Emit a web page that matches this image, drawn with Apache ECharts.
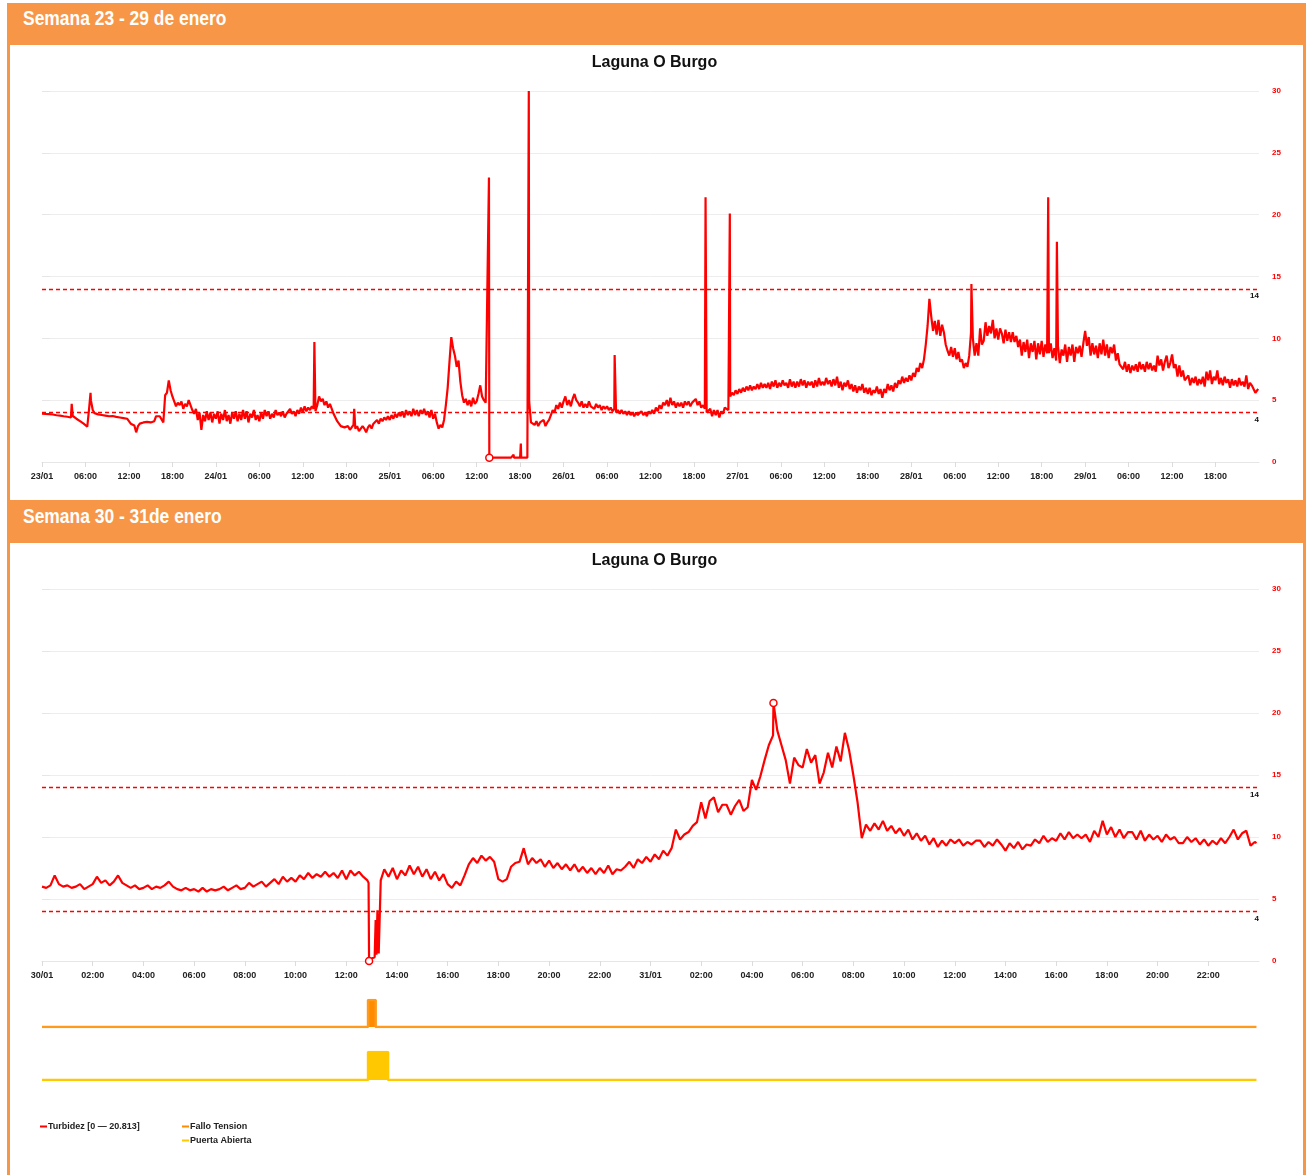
<!DOCTYPE html>
<html>
<head>
<meta charset="utf-8">
<script src="https://cdn.jsdelivr.net/npm/echarts@6/dist/echarts.min.js"></script>
<style>
  html, body { margin:0; padding:0; background:#ffffff; }
  body { width:1309px; height:1175px; position:relative; overflow:hidden; }
  .frame { position:absolute; left:7px; top:3px; width:1299px; height:1172px; background:#F79646; }
  .panel { position:absolute; left:10px; width:1293px; background:#ffffff; }
  .hdr { position:absolute; left:23px; color:#ffffff; font-family:"Liberation Sans",Arial,sans-serif; font-weight:bold; font-size:21px; line-height:24px; transform:scaleX(0.83); transform-origin:0 50%; white-space:nowrap; }
  #chart { position:absolute; left:0; top:0; width:1309px; height:1175px; }
</style>
</head>
<body>
<div class="frame"></div>
<div class="panel" style="top:45px;height:455px;"></div>
<div class="panel" style="top:543px;height:632px;"></div>
<div class="hdr" style="top:6px;">Semana 23 - 29 de enero</div>
<div class="hdr" style="top:504px;">Semana 30 - 31de enero</div>
<div id="chart"></div>
<script>
// ---------------- DATA ----------------
const chartTitle = 'Laguna O Burgo';
const seriesName = 'Turbidez [0 — 20.813]';
const thresholdHigh = 14;
const thresholdLow = 4;

// Week 23/01 - 29/01: samples every 0.25 h from 23/01 00:00 (4 per hour, 6 hours per row)
const weekStepHours = 0.25;
const weekValues = [
  /* h0  */ 3.9,3.92,3.88,3.85, 3.87,3.82,3.84,3.8, 3.78,3.72,3.75,3.68, 3.7,3.62,3.66,3.58, 3.6,3.72,3.6,3.5, 3.4,3.3,3.2,3.1,
  /* h6  */ 2.95,2.85,4.3,5.0, 4.2,3.95,3.9,3.85, 3.9,3.8,3.85,3.75, 3.8,3.7,3.78,3.72, 3.75,3.65,3.7,3.6, 3.65,3.55,3.6,3.5,
  /* h12 */ 3.3,3.1,3.2,2.95, 2.4,2.9,3.1,3.0, 3.2,3.05,3.25,3.1, 3.2,3.05,3.3,3.7, 3.65,3.7,3.6,3.2, 5.4,5.6,6.6,5.8,
  /* h18 */ 5.3,4.9,4.5,4.8, 4.6,4.9,4.3,4.7, 4.5,5.0,4.6,4.2, 3.9,4.3,3.4,4.0, 2.6,3.8,3.3,4.1, 3.4,4.0,3.2,3.9,
  /* h24 */ 3.5,4.1,3.1,3.9, 3.4,4.2,3.3,3.8, 3.1,4.0,3.5,4.1, 3.3,3.9,3.4,4.2, 3.5,4.1,3.2,3.9, 3.6,4.2,3.4,3.8,
  /* h30 */ 3.3,4.0,3.5,4.2, 3.7,4.1,3.5,3.9, 3.6,4.2,3.8,4.0, 3.7,4.1,3.6,3.9, 3.8,4.3,3.9,4.1, 3.7,4.2,3.9,4.4,
  /* h36 */ 4.0,4.5,4.1,4.4, 4.2,4.5,4.3,4.1, 4.6,5.3,4.9,5.1, 4.6,4.9,4.4,4.7, 4.3,3.9,3.6,3.3, 3.1,2.9,3.0,2.8,
  /* h42 */ 2.7,2.9,2.6,2.8, 3.0,2.7,2.9,2.5, 2.6,2.9,2.7,2.4, 2.8,3.0,2.7,3.1, 3.2,3.4,3.1,3.5, 3.3,3.6,3.4,3.7,
  /* h48 */ 3.4,3.8,3.5,3.9, 3.6,4.0,3.7,4.1, 3.6,4.2,3.8,4.1, 3.7,4.3,3.8,4.2, 3.7,4.2,3.9,4.3, 3.8,4.1,3.6,4.2,
  /* h54 */ 3.5,3.9,3.2,2.7, 3.0,2.8,3.4,4.6, 6.0,8.1,10.1,9.2, 8.6,7.7,8.2,6.5, 5.4,4.8,5.1,4.6, 5.0,4.5,5.2,4.7,
  /* h60 */ 4.9,5.5,6.2,5.3, 5.0,4.8,4.9,0.35, 0.35,0.35,0.35,0.35, 0.35,0.35,0.35,0.35, 0.35,0.35,0.35,0.35, 0.35,0.35,0.35,0.35,
  /* h66 */ 0.35,0.35,0.35,0.35, 0.35,4.9,3.2,3.3, 3.0,3.3,2.9,3.2, 3.1,3.4,2.9,3.2, 3.4,3.8,4.2,4.0, 4.6,4.3,4.8,4.4,
  /* h72 */ 4.9,5.3,4.6,5.0, 4.5,5.1,5.5,5.0, 4.8,4.5,4.9,4.4, 4.7,4.4,4.9,4.5, 4.6,4.3,4.7,4.4, 4.6,4.2,4.5,4.3,
  /* h78 */ 4.5,4.2,4.4,4.1, 4.3,4.0,4.2,3.9, 4.2,3.9,4.1,3.8, 4.1,3.8,4.0,3.7, 4.0,3.8,3.9,4.1, 3.8,4.0,3.7,4.1,
  /* h84 */ 3.9,4.2,3.9,4.4, 4.1,4.6,4.3,4.8, 4.6,5.0,4.5,5.2, 4.6,4.9,4.4,4.8, 4.5,4.8,4.4,4.9, 4.6,4.9,4.5,4.8,
  /* h90 */ 4.7,5.1,4.6,4.9, 4.4,4.6,4.3,4.0, 4.0,4.3,3.7,4.2, 3.8,4.2,3.6,4.1, 3.9,4.4,4.5,4.2, 5.3,5.6,5.4,5.8,
  /* h96 */ 5.5,5.9,5.6,6.0, 5.7,6.1,5.8,6.2, 5.8,6.1,5.9,6.3, 5.9,6.4,6.0,6.3, 6.0,6.4,5.9,6.5, 6.1,6.6,6.0,6.4,
  /* h102*/ 6.1,6.6,6.2,6.4, 6.0,6.7,6.1,6.5, 6.0,6.5,6.1,6.7, 6.2,6.6,6.0,6.5, 6.2,6.5,6.0,6.6, 6.1,6.8,6.2,6.5,
  /* h108*/ 6.2,6.8,6.3,6.6, 6.1,6.7,6.2,6.9, 6.0,6.5,5.8,6.4, 6.1,6.6,5.9,6.3, 5.7,6.2,5.6,6.1, 5.8,6.3,5.6,6.0,
  /* h114*/ 5.5,6.0,5.4,5.8, 5.6,6.1,5.5,5.9, 5.2,5.9,5.6,6.3, 5.8,6.2,5.7,6.4, 6.0,6.6,6.3,6.9, 6.4,6.8,6.5,7.0,
  /* h120*/ 6.6,7.2,6.9,7.6, 7.3,8.0,7.6,8.3, 9.5,11.0,13.2,11.8, 10.6,11.4,10.3,11.5, 10.2,11.1,10.5,9.5, 9.0,8.6,9.3,8.5,
  /* h126*/ 9.2,8.3,8.9,8.1, 8.3,7.6,8.0,7.7, 8.6,10.5,10.0,8.6, 9.6,8.6,10.8,9.5, 9.8,11.3,10.2,11.0, 10.4,11.5,10.0,10.8,
  /* h132*/ 9.9,10.8,10.4,9.6, 10.7,9.8,10.5,9.7, 10.5,9.7,10.2,9.3, 9.9,8.6,9.7,8.9, 9.9,8.4,9.6,8.9, 9.8,8.3,9.6,8.7,
  /* h138*/ 9.8,8.5,9.5,8.8, 8.8,9.6,8.4,9.2, 8.2,9.4,8.0,9.1, 8.6,9.5,8.1,9.3, 8.6,9.5,8.1,9.3, 8.8,9.4,8.5,9.6,
  /* h144*/ 10.6,9.4,10.1,8.6, 9.6,8.7,9.4,8.4, 9.6,8.7,9.9,8.6, 9.5,8.4,9.3,8.8, 9.5,8.2,8.8,7.9, 8.0,7.5,8.1,7.3,
  /* h150*/ 7.9,7.2,7.8,7.4, 7.9,7.3,8.1,7.5, 7.9,7.3,8.1,7.5, 8.0,7.4,7.8,7.3, 8.6,7.8,8.3,7.4, 8.1,8.6,7.6,8.0,
  /* h156*/ 8.7,7.6,7.9,6.9, 7.8,6.9,7.4,6.6, 6.5,7.0,6.2,6.8, 6.4,6.9,6.2,6.7, 6.3,6.9,6.1,7.3, 6.6,7.4,6.3,6.9,
  /* h162*/ 6.6,7.4,6.3,6.8, 6.2,6.9,6.4,6.7, 6.0,6.7,6.2,6.6, 6.1,6.8,6.2,6.5, 6.1,7.0,5.9,6.4, 6.2,5.9,5.6,5.8
];
// irregular extra samples [hour, value] (short spikes)
const weekExtra = [
  [4.1,4.7],[6.7,5.6],[37.6,9.7],[43.1,4.3],
  [61.7,23.0],
  [65.05,0.35],[65.1,0.6],[65.15,0.35],
  [66.05,0.35],[66.1,1.5],[66.15,0.35],
  [67.15,0.35],[67.2,30.0],
  [79.05,8.65],[91.6,21.4],[94.95,20.1],[128.3,14.4],
  [138.9,21.4],[140.1,17.8],[167.9,5.9]
];
const weekTickLabels = ['23/01','06:00','12:00','18:00','24/01','06:00','12:00','18:00',
  '25/01','06:00','12:00','18:00','26/01','06:00','12:00','18:00','27/01','06:00','12:00','18:00',
  '28/01','06:00','12:00','18:00','29/01','06:00','12:00','18:00',''];

// 30/01 - 31/01: samples every 10 min from 30/01 00:00 (6 per hour, 4 hours per row)
const dayStepHours = 1 / 6;
const dayValues = [
  /* h0  */ 6.0,5.9,6.1,6.9,6.2,6.0, 6.1,5.9,6.0,6.2,5.8,6.0, 6.2,6.8,6.3,6.5,6.1,6.4, 6.9,6.3,6.1,5.9,6.1,5.8,
  /* h4  */ 5.9,6.1,5.8,6.0,5.9,6.1, 6.4,6.0,5.8,5.7,5.9,5.7, 5.8,5.6,5.9,5.6,5.8,5.7, 5.8,6.0,5.7,5.9,6.1,5.8,
  /* h8  */ 5.9,6.3,6.0,6.2,6.4,6.0, 6.3,6.6,6.2,6.8,6.4,6.7, 6.4,6.9,6.6,7.1,6.7,7.0, 6.8,7.2,6.8,7.1,6.7,7.3,
  /* h12 */ 6.6,7.3,6.9,7.2,6.8,6.5, 0.2,3.0,0.6,7.4,6.8,7.5, 6.6,7.3,6.9,7.7,7.0,7.6, 6.8,7.4,6.6,7.2,6.5,7.0,
  /* h16 */ 6.2,5.9,6.4,6.1,6.9,7.8, 8.3,7.9,8.5,8.1,8.4,8.0, 6.6,6.4,6.6,7.6,7.9,8.0, 9.1,7.8,8.3,7.9,8.2,7.6,
  /* h20 */ 8.1,7.5,7.9,7.4,7.8,7.3, 7.8,7.2,7.6,7.1,7.5,7.0, 7.5,7.1,7.7,7.0,7.4,7.3, 7.6,8.0,7.5,8.2,7.9,8.4,
  /* h24 */ 8.0,8.6,8.2,8.9,8.5,9.1, 10.6,9.8,10.2,10.4,10.9,11.2, 12.8,11.5,12.9,13.2,12.0,12.6, 12.6,11.8,12.5,13.0,12.1,12.4,
  /* h28 */ 14.6,13.8,14.9,16.2,17.4,18.2, 18.6,17.4,16.2,14.3,16.4,15.8, 15.6,17.1,16.0,16.6,14.3,15.2, 16.8,15.6,17.3,16.1,18.4,17.0,
  /* h32 */ 15.0,12.8,9.9,11.0,10.5,11.1, 10.6,11.3,10.5,10.9,10.3,10.7, 10.1,10.6,9.8,10.3,9.7,10.1, 9.4,9.9,9.2,9.7,9.3,9.8,
  /* h36 */ 9.5,9.8,9.3,9.6,9.4,9.7, 9.7,9.2,9.6,9.3,9.8,9.4, 8.9,9.5,9.1,9.6,9.0,9.4, 9.3,9.8,9.5,10.1,9.6,9.9,
  /* h40 */ 9.7,10.3,9.8,10.4,9.9,10.2, 9.9,10.2,9.6,10.5,10.0,11.3, 10.2,10.8,10.0,10.6,9.9,10.4, 10.4,9.8,10.5,9.7,10.2,9.8,
  /* h44 */ 10.1,9.6,10.2,9.8,10.0,9.5, 9.5,10.0,9.6,9.9,9.4,9.8, 9.3,9.7,9.4,9.9,9.5,10.0, 10.6,9.8,10.3,10.5,9.3,9.6
];
const dayExtra = [
  [12.88,6.3],[12.9,0],[13.12,0.3],[13.16,3.3],[13.19,0.5],[13.23,4.1],
  [13.28,0.6],[13.36,6.5],[28.85,20.813],[47.9,9.5]
];
const dayTickLabels = ['30/01','02:00','04:00','06:00','08:00','10:00','12:00','14:00','16:00','18:00','20:00','22:00',
  '31/01','02:00','04:00','06:00','08:00','10:00','12:00','14:00','16:00','18:00','20:00','22:00',''];

// status signals (hour, state)
const falloHours = [0, 12.86, 12.86, 13.16, 13.16, 47.9];
const falloValues = [0, 0, 1, 1, 0, 0];
const puertaHours = [0, 12.86, 12.86, 13.65, 13.65, 47.9];
const puertaValues = [0, 0, 1, 1, 0, 0];

// ---------------- BUILD ----------------
function buildSeries(step, values, extra) {
  const pts = values.map((v, i) => [i * step, v]);
  extra.forEach(e => pts.push([e[0], e[1]]));
  pts.sort((a, b) => a[0] - b[0]);
  return pts;
}
const weekData = buildSeries(weekStepHours, weekValues, weekExtra);
const dayData = buildSeries(dayStepHours, dayValues, dayExtra);
const falloData = falloHours.map((h, i) => [h, falloValues[i]]);
const puertaData = puertaHours.map((h, i) => [h, puertaValues[i]]);

const SANS = '"Liberation Sans",Arial,sans-serif';
const RED = '#ff0000';

function xAxisDef(gridIndex, max, interval, labels) {
  return {
    type: 'value', gridIndex: gridIndex, min: 0, max: max, interval: interval,
    axisLine: { show: true, lineStyle: { color: '#e6e6e6', width: 1 } },
    axisTick: { show: true, length: 5, lineStyle: { color: '#dcdcdc' } },
    splitLine: { show: false },
    axisLabel: {
      show: true, margin: 10, showMaxLabel: false,
      fontFamily: SANS, fontWeight: 'bold', fontSize: 9, color: '#222',
      formatter: v => labels[Math.round(v / interval)] || ''
    }
  };
}
function yAxisDef(gridIndex) {
  return {
    type: 'value', gridIndex: gridIndex, position: 'right', min: 0, max: 30, interval: 5,
    axisLine: { show: false },
    axisTick: { show: true, length: 8, lineStyle: { color: '#e6e6e6' } },
    splitLine: { show: true, lineStyle: { color: '#ededed', width: 1 } },
    axisLabel: { margin: 13, color: RED, fontFamily: SANS, fontWeight: 'bold', fontSize: 8 }
  };
}
function statusAxes(gridIndex) {
  return {
    x: { type: 'value', gridIndex: gridIndex, min: 0, max: 48, show: false },
    y: { type: 'value', gridIndex: gridIndex, min: 0, max: 1, show: false }
  };
}
const markLineDef = {
  silent: true, symbol: 'none',
  lineStyle: { color: RED, type: [4, 3], width: 1.3 },
  label: { show: true, position: 'insideEndBottom', distance: [0, 3], color: '#111', fontFamily: SANS, fontWeight: 'bold', fontSize: 8, formatter: p => String(p.value) },
  data: [{ yAxis: thresholdHigh }, { yAxis: thresholdLow }]
};
const markPointStyle = {
  symbol: 'circle', symbolSize: 7,
  itemStyle: { color: '#ffffff', borderColor: RED, borderWidth: 1.5 },
  label: { show: false }
};

const s1 = statusAxes(2), s2 = statusAxes(3);

const option = {
  animation: false,
  backgroundColor: 'transparent',
  title: [
    { text: chartTitle, left: 'center', top: 50, textStyle: { fontFamily: SANS, fontWeight: 'bold', fontSize: 16, color: '#111' } },
    { text: chartTitle, left: 'center', top: 548, textStyle: { fontFamily: SANS, fontWeight: 'bold', fontSize: 16, color: '#111' } }
  ],
  legend: [
    { data: [seriesName], left: 35, top: 1117, icon: 'rect', itemWidth: 7, itemHeight: 2, itemGap: 5,
      textStyle: { fontFamily: SANS, fontWeight: 'bold', fontSize: 9, color: '#222', padding: [0,0,0,-4] } },
    { data: ['Fallo Tension', 'Puerta Abierta'], orient: 'vertical', left: 177, top: 1117, icon: 'rect', itemWidth: 7, itemHeight: 2, itemGap: 5,
      textStyle: { fontFamily: SANS, fontWeight: 'bold', fontSize: 9, color: '#222', padding: [0,0,0,-4] } }
  ],
  grid: [
    { left: 42, right: 50, top: 91, height: 371 },
    { left: 42, right: 50, top: 589, height: 372 },
    { left: 42, right: 50, top: 1000, height: 27 },
    { left: 42, right: 50, top: 1052, height: 28 }
  ],
  xAxis: [
    xAxisDef(0, 168, 6, weekTickLabels),
    xAxisDef(1, 48, 2, dayTickLabels),
    s1.x, s2.x
  ],
  yAxis: [ yAxisDef(0), yAxisDef(1), s1.y, s2.y ],
  series: [
    { name: seriesName, type: 'line', xAxisIndex: 0, yAxisIndex: 0, data: weekData,
      showSymbol: false, lineStyle: { color: RED, width: 2.2 }, itemStyle: { color: RED },
      markLine: markLineDef,
      markPoint: Object.assign({ data: [{ type: 'min' }] }, markPointStyle) },
    { name: seriesName, type: 'line', xAxisIndex: 1, yAxisIndex: 1, data: dayData,
      showSymbol: false, lineStyle: { color: RED, width: 2.2 }, itemStyle: { color: RED },
      markLine: markLineDef,
      markPoint: Object.assign({ data: [{ type: 'min' }, { type: 'max' }] }, markPointStyle) },
    { name: 'Fallo Tension', type: 'line', xAxisIndex: 2, yAxisIndex: 2, data: falloData,
      showSymbol: false, lineStyle: { color: '#ff9a1a', width: 2.5 }, itemStyle: { color: '#ff8c00' },
      areaStyle: { color: '#ff8c00', opacity: 1 } },
    { name: 'Puerta Abierta', type: 'line', xAxisIndex: 3, yAxisIndex: 3, data: puertaData,
      showSymbol: false, lineStyle: { color: '#ffc800', width: 2.5 }, itemStyle: { color: '#ffc800' },
      areaStyle: { color: '#ffc800', opacity: 1 } }
  ]
};

const chart = echarts.init(document.getElementById('chart'), null, { renderer: 'canvas' });
chart.setOption(option);
</script>
</body>
</html>
